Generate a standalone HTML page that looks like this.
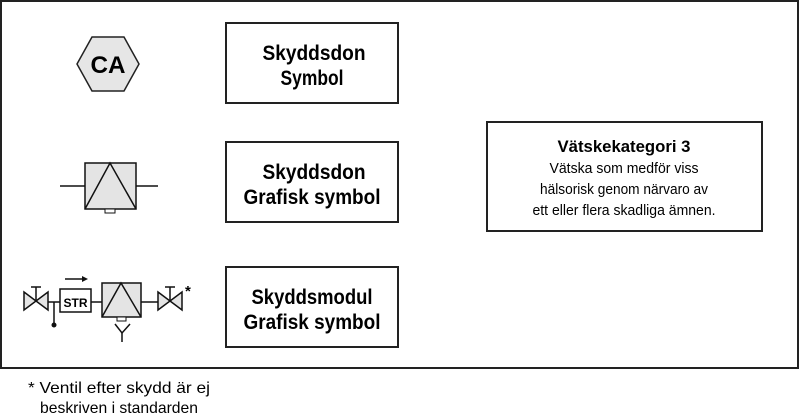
<!DOCTYPE html>
<html><head><meta charset="utf-8"><style>
body{margin:0;background:#fff;}
svg{display:block;}
text{font-family:"Liberation Sans",sans-serif;}
</style></head><body>
<svg width="800" height="420" viewBox="0 0 800 420" xmlns="http://www.w3.org/2000/svg">
<rect x="1" y="1" width="797" height="367" fill="none" stroke="#222" stroke-width="2"/>
<polygon points="77,64 92,37 124,37 139,64 124,91 92,91" fill="#e6e6e6" stroke="#222" stroke-width="1.5"/>
<text x="108" y="73" font-size="24" font-weight="bold" text-anchor="middle" textLength="35" lengthAdjust="spacingAndGlyphs">CA</text>
<g fill="#fff" stroke="#222" stroke-width="2">
<rect x="226" y="23" width="172" height="80"/>
<rect x="226" y="142" width="172" height="80"/>
<rect x="226" y="267" width="172" height="80"/>
<rect x="487" y="122" width="275" height="109"/>
</g>
<g font-size="21" font-weight="bold" text-anchor="middle" fill="#000" lengthAdjust="spacingAndGlyphs">
<text x="314" y="60" textLength="103" lengthAdjust="spacingAndGlyphs">Skyddsdon</text>
<text x="312" y="85" textLength="63" lengthAdjust="spacingAndGlyphs">Symbol</text>
<text x="314" y="179" textLength="103" lengthAdjust="spacingAndGlyphs">Skyddsdon</text>
<text x="312" y="204" textLength="137" lengthAdjust="spacingAndGlyphs">Grafisk symbol</text>
<text x="312" y="304" textLength="121" lengthAdjust="spacingAndGlyphs">Skyddsmodul</text>
<text x="312" y="329" textLength="137" lengthAdjust="spacingAndGlyphs">Grafisk symbol</text>
</g>
<text x="624" y="152" font-size="17" font-weight="bold" text-anchor="middle" textLength="133" lengthAdjust="spacingAndGlyphs">Vätskekategori 3</text>
<g font-size="15" text-anchor="middle">
<text x="624" y="173" textLength="149" lengthAdjust="spacingAndGlyphs">Vätska som medför viss</text>
<text x="624" y="194" textLength="168" lengthAdjust="spacingAndGlyphs">hälsorisk genom närvaro av</text>
<text x="624" y="215" textLength="183" lengthAdjust="spacingAndGlyphs">ett eller flera skadliga ämnen.</text>
</g>
<g stroke="#111" stroke-width="1.5" fill="none">
<line x1="60" y1="186" x2="85" y2="186"/><line x1="136" y1="186" x2="158" y2="186"/>
<rect x="85" y="163" width="51" height="46" fill="#e4e4e4"/>
<polyline points="85,209 110,163 136,209"/>
<rect x="105" y="209" width="10" height="4" fill="#fff" stroke-width="1"/>
</g>
<g stroke="#111" stroke-width="1.5" fill="none">
<polygon points="24,292 48,310 48,292 24,310" fill="#e4e4e4"/>
<line x1="36" y1="287" x2="36" y2="301"/><line x1="31" y1="287" x2="41" y2="287"/>
<line x1="48" y1="302" x2="60" y2="302"/>
<line x1="54" y1="302" x2="54" y2="325"/>
<rect x="60" y="289" width="31" height="23"/>
<line x1="91" y1="302" x2="102" y2="302"/>
<rect x="102" y="283" width="39" height="34" fill="#e4e4e4"/>
<polyline points="102,317 121,283 141,317"/>
<rect x="117" y="317" width="9" height="4" fill="#fff" stroke-width="1"/>
<polyline points="115,324 122,333 130,324"/><line x1="122" y1="333" x2="122" y2="342"/>
<line x1="141" y1="302" x2="158" y2="302"/>
<polygon points="158,292 182,310 182,292 158,310" fill="#e4e4e4"/>
<line x1="170" y1="287" x2="170" y2="301"/><line x1="165" y1="287" x2="175" y2="287"/>
<line x1="65" y1="279" x2="82" y2="279"/>
</g>
<polygon points="82,276 88,279 82,282" fill="#111"/>
<circle cx="54" cy="325" r="2.5" fill="#111"/>
<text x="75.5" y="307" font-size="12" font-weight="bold" text-anchor="middle" textLength="24" lengthAdjust="spacingAndGlyphs">STR</text>
<text x="185" y="296" font-size="15" font-weight="bold">*</text>
<text x="28" y="393" font-size="16" textLength="182" lengthAdjust="spacingAndGlyphs">* Ventil efter skydd är ej</text>
<text x="40" y="413" font-size="16" textLength="158" lengthAdjust="spacingAndGlyphs">beskriven i standarden</text>
</svg>
</body></html>
